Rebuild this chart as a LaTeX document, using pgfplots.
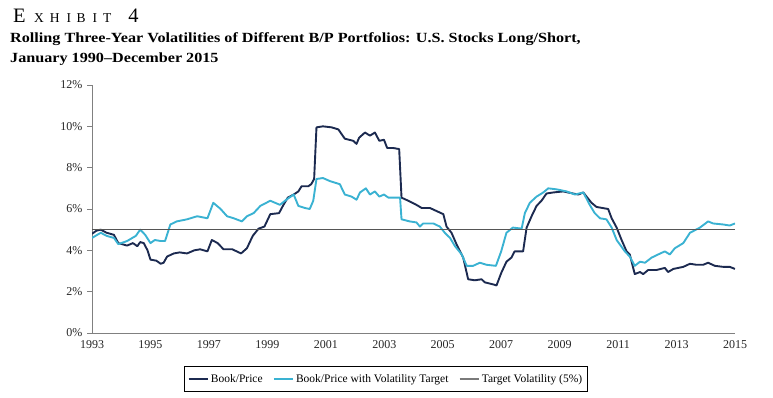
\documentclass[border=0pt]{standalone}
\usepackage{pgfplots}
\pgfplotsset{compat=1.18}
\usepackage{pgfplotstable}
\usepackage{fontspec}
\setmainfont{Liberation Serif}
\definecolor{bpdark}{HTML}{1C2A50}
\definecolor{bplight}{HTML}{3AB2D2}
\definecolor{tgray}{HTML}{555555}
\definecolor{lgray}{HTML}{7A7A7A}
\pgfplotstableread{
x y
1993.0 4.8
1993.15 4.95
1993.3 5.0
1993.5 4.85
1993.75 4.75
1993.9 4.35
1994.2 4.23
1994.4 4.35
1994.55 4.2
1994.65 4.4
1994.77 4.35
1994.9 4.0
1995.0 3.55
1995.2 3.5
1995.35 3.35
1995.45 3.4
1995.57 3.7
1995.8 3.85
1996.0 3.9
1996.25 3.85
1996.5 4.0
1996.7 4.05
1996.95 3.95
1997.1 4.5
1997.3 4.35
1997.5 4.05
1997.8 4.05
1997.95 3.95
1998.1 3.85
1998.3 4.1
1998.5 4.7
1998.7 5.05
1998.9 5.15
1999.1 5.75
1999.4 5.8
1999.55 6.2
1999.7 6.55
1999.9 6.7
2000.06 6.85
2000.17 7.1
2000.4 7.1
2000.5 7.2
2000.6 7.45
2000.68 9.95
2000.9 10.0
2001.2 9.95
2001.43 9.85
2001.65 9.4
2001.94 9.3
2002.05 9.15
2002.14 9.45
2002.34 9.7
2002.51 9.55
2002.68 9.7
2002.83 9.3
2002.99 9.35
2003.1 8.95
2003.31 8.95
2003.51 8.9
2003.59 6.55
2003.82 6.4
2004.1 6.2
2004.28 6.05
2004.56 6.05
2004.79 5.9
2005.02 5.75
2005.13 5.15
2005.3 4.85
2005.47 4.3
2005.7 3.65
2005.87 2.6
2006.1 2.55
2006.33 2.6
2006.44 2.45
2006.73 2.35
2006.84 2.3
2007.0 2.9
2007.18 3.45
2007.35 3.65
2007.46 3.95
2007.75 3.95
2007.87 5.1
2008.04 5.65
2008.21 6.15
2008.38 6.4
2008.55 6.75
2008.78 6.8
2009.12 6.85
2009.46 6.75
2009.64 6.7
2009.81 6.8
2009.92 6.6
2010.09 6.3
2010.26 6.1
2010.66 6.0
2010.78 5.55
2010.95 5.1
2011.12 4.5
2011.29 3.95
2011.4 3.8
2011.57 2.85
2011.75 2.95
2011.86 2.85
2012.03 3.05
2012.32 3.05
2012.6 3.15
2012.71 2.95
2012.89 3.1
2013.23 3.2
2013.46 3.35
2013.68 3.3
2013.91 3.3
2014.08 3.4
2014.31 3.25
2014.6 3.2
2014.82 3.2
2015.0 3.1
}\bpdata
\pgfplotstableread{
x y
1993.0 4.6
1993.3 4.85
1993.5 4.7
1993.75 4.6
1993.9 4.3
1994.2 4.45
1994.5 4.7
1994.65 5.0
1994.82 4.75
1995.0 4.35
1995.15 4.5
1995.35 4.45
1995.5 4.45
1995.68 5.25
1995.9 5.4
1996.25 5.5
1996.6 5.65
1996.95 5.55
1997.15 6.3
1997.4 6.0
1997.62 5.65
1997.85 5.55
1998.13 5.4
1998.3 5.65
1998.53 5.8
1998.76 6.15
1999.1 6.4
1999.43 6.2
1999.65 6.45
1999.9 6.7
2000.06 6.15
2000.28 6.05
2000.45 6.0
2000.57 6.4
2000.68 7.45
2000.9 7.5
2001.14 7.35
2001.48 7.2
2001.65 6.7
2001.88 6.6
2002.05 6.45
2002.17 6.8
2002.37 7.0
2002.51 6.7
2002.68 6.85
2002.83 6.6
2002.99 6.7
2003.14 6.55
2003.54 6.55
2003.59 5.5
2003.87 5.4
2004.1 5.35
2004.22 5.15
2004.33 5.3
2004.68 5.3
2004.9 5.15
2005.07 4.85
2005.25 4.6
2005.42 4.2
2005.65 3.8
2005.82 3.25
2006.04 3.25
2006.27 3.4
2006.5 3.3
2006.82 3.25
2007.0 3.95
2007.18 4.85
2007.4 5.1
2007.7 5.05
2007.81 5.8
2007.98 6.3
2008.21 6.6
2008.44 6.8
2008.61 7.0
2008.9 6.95
2009.24 6.85
2009.52 6.7
2009.81 6.8
2010.03 6.2
2010.2 5.8
2010.38 5.55
2010.6 5.5
2010.78 5.1
2010.95 4.5
2011.23 3.95
2011.4 3.7
2011.57 3.25
2011.75 3.45
2011.92 3.4
2012.15 3.65
2012.37 3.8
2012.6 3.95
2012.77 3.8
2012.94 4.1
2013.23 4.35
2013.46 4.85
2013.8 5.1
2014.08 5.4
2014.25 5.3
2014.6 5.25
2014.82 5.2
2015.0 5.3
}\bpvoldata
\pgfplotstableread{
x y
1993 5
2015 5
}\targetdata
\begin{document}
\begin{tikzpicture}
\useasboundingbox (0,0) rectangle (773bp,398bp);
\node[anchor=base west, inner sep=0pt] at (13bp,375.3bp) {\fontsize{20.5bp}{24bp}\selectfont E\hspace{8.5bp}{\fontsize{13.5bp}{16bp}\selectfont X\hspace{6bp}H\hspace{7bp}I\hspace{5.5bp}B\hspace{7bp}I\hspace{6bp}T}\hspace{17bp}4};
\node[anchor=base west, inner sep=0pt] at (10bp,355bp) {\scalebox{1.155}[1]{\fontsize{14bp}{16bp}\selectfont\bfseries Rolling Three-Year Volatilities of Different B/P Portfolios: U.S. Stocks Long/Short,}};
\node[anchor=base west, inner sep=0pt] at (10bp,335bp) {\scalebox{1.155}[1]{\fontsize{14bp}{16bp}\selectfont\bfseries January 1990--December 2015}};
\begin{axis}[
  at={(92bp,65bp)}, anchor=south west,
  scale only axis, width=643bp, height=248bp,
  xmin=1993, xmax=2015, ymin=0, ymax=12,
  axis lines*=left,
  axis line style={gray, line width=0.6pt},
  xtick={1993,1995,...,2015},
  ytick={0,2,...,12},
  x tick label style={/pgf/number format/1000 sep={}},
  yticklabel={\pgfmathprintnumber{\tick}\%},
  /pgf/number format/assume math mode=true,
  tick label style={font=\fontsize{12bp}{14bp}\selectfont, text=black!85},
  xtick style={draw=none},
  ytick style={gray, line width=0.6pt},
  tick align=outside,
  major tick length=5bp,
  xticklabel style={yshift=1bp},
  yticklabel style={xshift=-1bp},
  legend columns=3,
  legend cell align=left,
  legend style={at={(0.457,-0.1855)}, anchor=center, draw=black, line width=0.7pt,
    font=\fontsize{11.5bp}{13bp}\selectfont, inner xsep=3bp, inner ysep=6bp,
    /tikz/every even column/.append style={column sep=8bp}},
  legend image code/.code={\draw[#1, line width=2.4pt] (0bp,0bp) -- (19bp,0bp);},
]
\addplot[bpdark, line width=1.9pt, line join=round] table[x=x,y=y] {\bpdata};
\addlegendentry{Book/Price}
\addplot[bplight, line width=1.9pt, line join=round] table[x=x,y=y] {\bpvoldata};
\addlegendentry{Book/Price with Volatility Target}
\addplot[tgray, line width=0.8pt, forget plot] table[x=x,y=y] {\targetdata};
\addlegendimage{lgray}
\addlegendentry{Target Volatility (5\%)}
\end{axis}
\end{tikzpicture}
\end{document}
